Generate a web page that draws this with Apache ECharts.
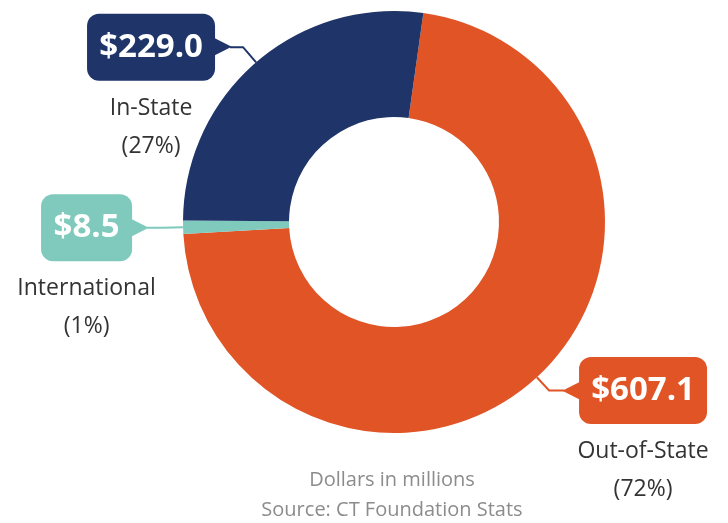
<!doctype html>
<html>
<head>
<meta charset="UTF-8">
<title>Donut</title>
<script src="https://cdn.jsdelivr.net/npm/echarts@6/dist/echarts.min.js"></script>
<style>
  html, body { margin: 0; padding: 0; background: #fff; }
  #main { width: 728px; height: 523px; }
</style>
</head>
<body>
<div id="main"></div>
<script>
// data
var names = ['Out-of-State', 'International', 'In-State'];
var values = [607.1, 8.5, 229.0];
var colors = ['#e05426', '#7fcabc', '#1f3468'];
var footNotes = ['Dollars in millions', 'Source: CT Foundation Stats'];

var FONT = 'Open Sans';
var cv = document.createElement('canvas').getContext('2d');
function textWidth(str, font) {
  cv.font = font;
  return Math.ceil(cv.measureText(str).width);
}
function money(v) { return '$' + v.toFixed(1); }

// label lines per slice (length / length2) and which side the callout sits
var lineLen = [[18, 15], [20, 16], [20, 13]];
var rightSide = [true, false, false];

var data = names.map(function (n, i) {
  var c = colors[i];
  var boxW = textWidth(money(values[i]), 'bold 33px ' + FONT);
  var arrW = 15;
  var rich = {
    box: { backgroundColor: c, color: '#fff', fontFamily: FONT, fontWeight: 'bold', fontSize: 33,
      lineHeight: 66, padding: [17, 12], borderRadius: 12, width: boxW, align: 'center', verticalAlign: 'middle' },
    arr: { color: c, fontFamily: 'DejaVu Sans', fontSize: 24, width: arrW, verticalAlign: 'middle',
      align: rightSide[i] ? 'right' : 'left' },
    n1: { color: '#333', fontFamily: FONT, fontSize: 23, lineHeight: 56, width: boxW + 24, align: 'center' },
    n2: { color: '#333', fontFamily: FONT, fontSize: 23, lineHeight: 20, width: boxW + 24, align: 'center' },
    sp: { width: arrW }
  };
  return {
    name: n,
    value: values[i],
    itemStyle: { color: c },
    labelLine: { length: lineLen[i][0], length2: lineLen[i][1], lineStyle: { color: c, width: 2 } },
    label: {
      padding: [76, 0, 0, 0],
      rich: rich,
      formatter: function (p) {
        var pct = '(' + Math.round(p.percent) + '%)';
        if (rightSide[i]) {
          return '{arr|◀}{box|' + money(p.value) + '}\n{sp|}{n1|' + p.name + '}\n{sp|}{n2|' + pct + '}';
        }
        return '{box|' + money(p.value) + '}{arr|▶}\n{n1|' + p.name + '}{sp|}\n{n2|' + pct + '}{sp|}';
      }
    }
  };
});

var chart = echarts.init(document.getElementById('main'));
var option = {
  animation: false,
  series: [{
    type: 'pie',
    center: [394, 222],
    radius: [105, 211],
    startAngle: 82,
    clockwise: true,
    avoidLabelOverlap: false,
    silent: true,
    label: { show: true, position: 'outside', distanceToLabelLine: 0 },
    labelLine: { show: true, smooth: false },
    data: data
  }],
  graphic: [{
    type: 'text',
    x: 392,
    y: 465,
    style: {
      text: footNotes.join('\n'),
      fontFamily: FONT,
      fontSize: 20,
      lineHeight: 30,
      fill: '#8c8c8c',
      textAlign: 'center'
    }
  }]
};
chart.setOption(option);
</script>
</body>
</html>
